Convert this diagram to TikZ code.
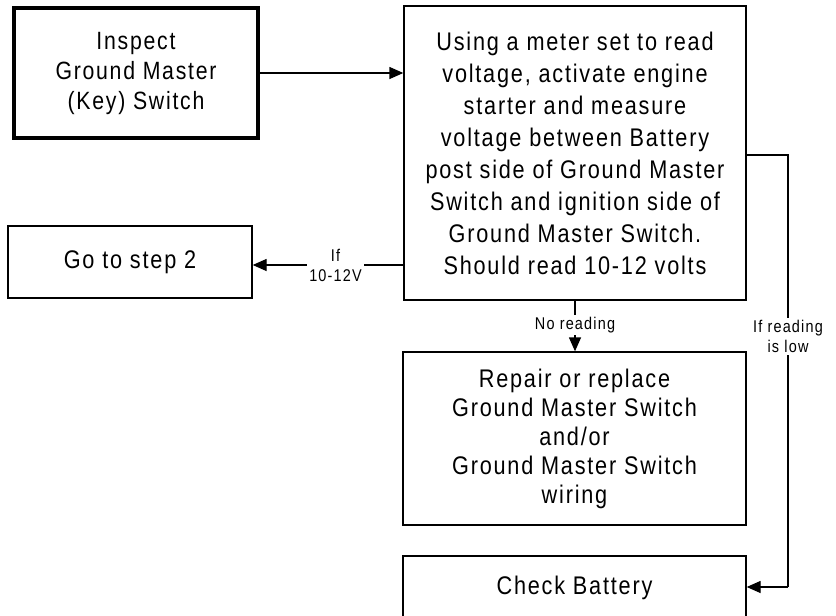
\documentclass[tikz,border=0pt]{standalone}
\usepackage{fontspec}
\setmainfont{Liberation Sans}[LetterSpace=7, FakeStretch=0.85]
\usetikzlibrary{arrows.meta}
\tikzset{
  box/.style={draw=black, line width=1.3pt, align=center, inner sep=0pt,
    font=\fontsize{25.5}{29}\selectfont},
  thickbox/.style={box, line width=4.5pt, font=\fontsize{25}{30}\selectfont},
  conn/.style={line width=1.3pt, -{Triangle[length=14pt,width=12pt]}},
  lbl/.style={fill=white, align=center, inner sep=2pt, font=\fontsize{17}{20}\selectfont},
}
\begin{document}
\begin{tikzpicture}[x=1pt,y=-1pt]
\useasboundingbox (0,0) rectangle (836,616);
\fill[white] (0,0) rectangle (836,616);
\node[thickbox, minimum width=244pt, minimum height=130pt] (b1) at (136,73)
  {Inspect\\Ground Master\\(Key) Switch};
\node[box, minimum width=342pt, minimum height=294pt, font=\fontsize{25.5}{32}\selectfont] (b2) at (575,153)
  {Using a meter set to read\\voltage, activate engine\\starter and measure\\voltage between Battery\\post side of Ground Master\\Switch and ignition side of\\Ground Master Switch.\\Should read 10-12 volts};
\node[box, minimum width=244pt, minimum height=72pt] (b3) at (130,262) {Go to step 2};
\node[box, minimum width=343pt, minimum height=173pt] (b4) at (574.5,438.5)
  {Repair or replace\\Ground Master Switch\\and/or\\Ground Master Switch\\wiring};
\node[box, minimum width=343pt, minimum height=64pt] (b5) at (574.5,588) {Check Battery};
\coordinate (c1) at (788,155);
\coordinate (c2) at (788,587);
\draw[conn] (b1.east) -- (b2.west |- b1.east);
\draw[conn] (b2.west |- 0,265) -- (b3.east |- 0,265)
  node[lbl, pos=0.45] {If\\10-12V};
\draw[conn] (575,300) -- (b4.north -| 575,0)
  node[lbl, pos=0.48] {No reading};
\draw[line width=1.3pt] (b2.east |- c1) -- (c1) -- (c2)
  node[lbl, pos=0.42] {If reading\\is low};
\draw[conn] (c2) -- (b5.east |- c2);
\end{tikzpicture}
\end{document}
